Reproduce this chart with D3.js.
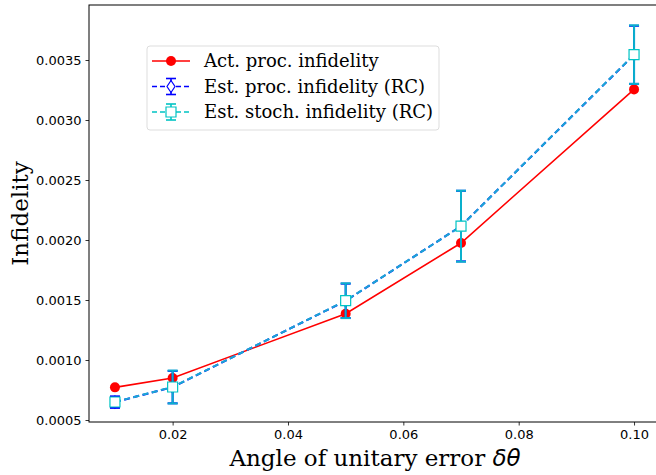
<!DOCTYPE html>
<html>
<head>
<meta charset="utf-8">
<script src="https://cdn.jsdelivr.net/npm/d3@7"></script>
<style>
  body { margin: 0; background: #fff; }
  svg { display: block; }
</style>
</head>
<body>
<svg id="chart" width="656" height="475"></svg>
<script>
// data
const angles = [0.01, 0.02, 0.05, 0.07, 0.10];
const actProc = [0.000772, 0.00085, 0.001386, 0.001975, 0.003255];
const estProc = [0.000649, 0.000774, 0.001493, 0.002116, 0.003543];
const estProcErr = [0.000048, 0.000135, 0.000143, 0.000294, 0.000242];
const estStoch = [0.000650, 0.000775, 0.001494, 0.002115, 0.003545];
const estStochErr = [0.00002, 0.000137, 0.000145, 0.000296, 0.000244];
const xTicks = [0.02, 0.04, 0.06, 0.08, 0.10];
const yTicks = [0.0005, 0.0010, 0.0015, 0.0020, 0.0025, 0.0030, 0.0035];
const legendLabels = ["Act. proc. infidelity", "Est. proc. infidelity (RC)", "Est. stoch. infidelity (RC)"];

const margin = {top: 5, right: -4, bottom: 53, left: 89};
const W = 656, H = 475;
const svg = d3.select("#chart");

const x = d3.scaleLinear().domain([0.0055, 0.1045]).range([margin.left, W - margin.right]);
const y = d3.scaleLinear().domain([0.0005, 0.0035]).range([420, 60]);

const sans = "DejaVu Sans, sans-serif";
const serif = "DejaVu Serif, serif";

// axes
const xAxis = svg.append("g")
    .attr("transform", `translate(0, ${H - margin.bottom})`)
    .call(d3.axisBottom(x).tickValues(xTicks).tickFormat(d3.format(".2f")).tickSize(3.5).tickPadding(4));
const yAxis = svg.append("g")
    .attr("transform", `translate(${margin.left}, 0)`)
    .call(d3.axisLeft(y).tickValues(yTicks).tickFormat(d3.format(".4f")).tickSize(3.5).tickPadding(4));
[xAxis, yAxis].forEach(a => {
    a.select(".domain").remove();
    a.selectAll("line").attr("stroke", "#000").attr("stroke-width", 0.8);
    a.selectAll("text").attr("font-family", sans).attr("font-size", 13).attr("fill", "#000");
});

// frame
svg.append("rect")
    .attr("x", margin.left).attr("y", margin.top)
    .attr("width", W - margin.right - margin.left)
    .attr("height", H - margin.bottom - margin.top)
    .attr("fill", "none").attr("stroke", "#000").attr("stroke-width", 1);

const plot = svg.append("g");
const line = d3.line().x(d => x(d[0])).y(d => y(d[1]));

function errSeries(vals, errs, color, barColor, markerType) {
    const pts = angles.map((a, i) => [a, vals[i], errs[i]]);
    const g = plot.append("g");
    g.append("path")
        .datum(pts)
        .attr("d", line)
        .attr("fill", "none")
        .attr("stroke", color)
        .attr("stroke-width", 2)
        .attr("stroke-dasharray", "6,3.5");
    pts.forEach(p => {
        const cx = x(p[0]);
        g.append("line")
            .attr("x1", cx).attr("x2", cx)
            .attr("y1", y(p[1] - p[2])).attr("y2", y(p[1] + p[2]))
            .attr("stroke", barColor).attr("stroke-width", 2);
        [p[1] - p[2], p[1] + p[2]].forEach(v => {
            g.append("line")
                .attr("x1", cx - 5).attr("x2", cx + 5)
                .attr("y1", y(v)).attr("y2", y(v))
                .attr("stroke", barColor).attr("stroke-width", 2);
        });
    });
    g.selectAll(".mk")
        .data(pts)
        .join("path")
        .attr("transform", d => `translate(${x(d[0])}, ${y(d[1])})`)
        .attr("d", markerType === "diamond" ? "M0,-6L4,0L0,6L-4,0Z" : "M-5,-5H5V5H-5Z")
        .attr("fill", "#fff")
        .attr("stroke", markerType === "diamond" ? color : "#00c4c4")
        .attr("stroke-width", 1.2);
}

// actual process infidelity
const actPts = angles.map((a, i) => [a, actProc[i]]);
plot.append("path")
    .datum(actPts)
    .attr("d", line)
    .attr("fill", "none")
    .attr("stroke", "#ff0000")
    .attr("stroke-width", 1.6);
plot.selectAll(".act")
    .data(actPts)
    .join("circle")
    .attr("cx", d => x(d[0])).attr("cy", d => y(d[1]))
    .attr("r", 5)
    .attr("fill", "#ff0000");

errSeries(estProc, estProcErr, "#0000ff", "#0000ff", "diamond");
errSeries(estStoch, estStochErr, "#1aa8d4", "#0ab0cc", "square");

// legend
const lg = svg.append("g").attr("transform", "translate(147, 46)");
lg.append("rect")
    .attr("width", 292).attr("height", 84).attr("rx", 3)
    .attr("fill", "#fff").attr("fill-opacity", 0.8)
    .attr("stroke", "#ddd").attr("stroke-width", 1);
const colors = ["#ff0000", "#0000ff", "#00c4c4"];
legendLabels.forEach((lab, i) => {
    const row = lg.append("g").attr("transform", `translate(0, ${15 + i * 25.5})`);
    if (i === 0) {
        row.append("line").attr("x1", 5).attr("x2", 43).attr("stroke", colors[i]).attr("stroke-width", 1.6);
        row.append("circle").attr("cx", 24).attr("r", 5).attr("fill", colors[i]);
    } else {
        row.append("line").attr("x1", 5).attr("x2", 43).attr("stroke", colors[i])
            .attr("stroke-width", 1.6).attr("stroke-dasharray", "5,3");
        row.append("line").attr("x1", 24).attr("x2", 24).attr("y1", -8).attr("y2", 8)
            .attr("stroke", colors[i]).attr("stroke-width", 1.6);
        [-8, 8].forEach(dy => row.append("line").attr("x1", 19).attr("x2", 29).attr("y1", dy).attr("y2", dy)
            .attr("stroke", colors[i]).attr("stroke-width", 1.6));
        row.append("path")
            .attr("transform", "translate(24, 0)")
            .attr("d", i === 1 ? "M0,-6L4,0L0,6L-4,0Z" : "M-5,-5H5V5H-5Z")
            .attr("fill", "#fff").attr("stroke", colors[i]).attr("stroke-width", 1.2);
    }
    row.append("text")
        .attr("x", 57).attr("y", 6)
        .attr("font-family", serif).attr("font-size", 18)
        .text(lab);
});

// axis labels
svg.append("text")
    .attr("transform", `translate(28, ${(margin.top + H - margin.bottom) / 2}) rotate(-90)`)
    .attr("text-anchor", "middle")
    .attr("font-family", serif).attr("font-size", 23)
    .text("Infidelity");
const xl = svg.append("text")
    .attr("x", 375).attr("y", 466)
    .attr("text-anchor", "middle")
    .attr("font-family", serif).attr("font-size", 23);
xl.append("tspan").text("Angle of unitary error ");
xl.append("tspan").attr("font-style", "italic").attr("font-family", sans).text("δθ");
</script>
</body>
</html>
